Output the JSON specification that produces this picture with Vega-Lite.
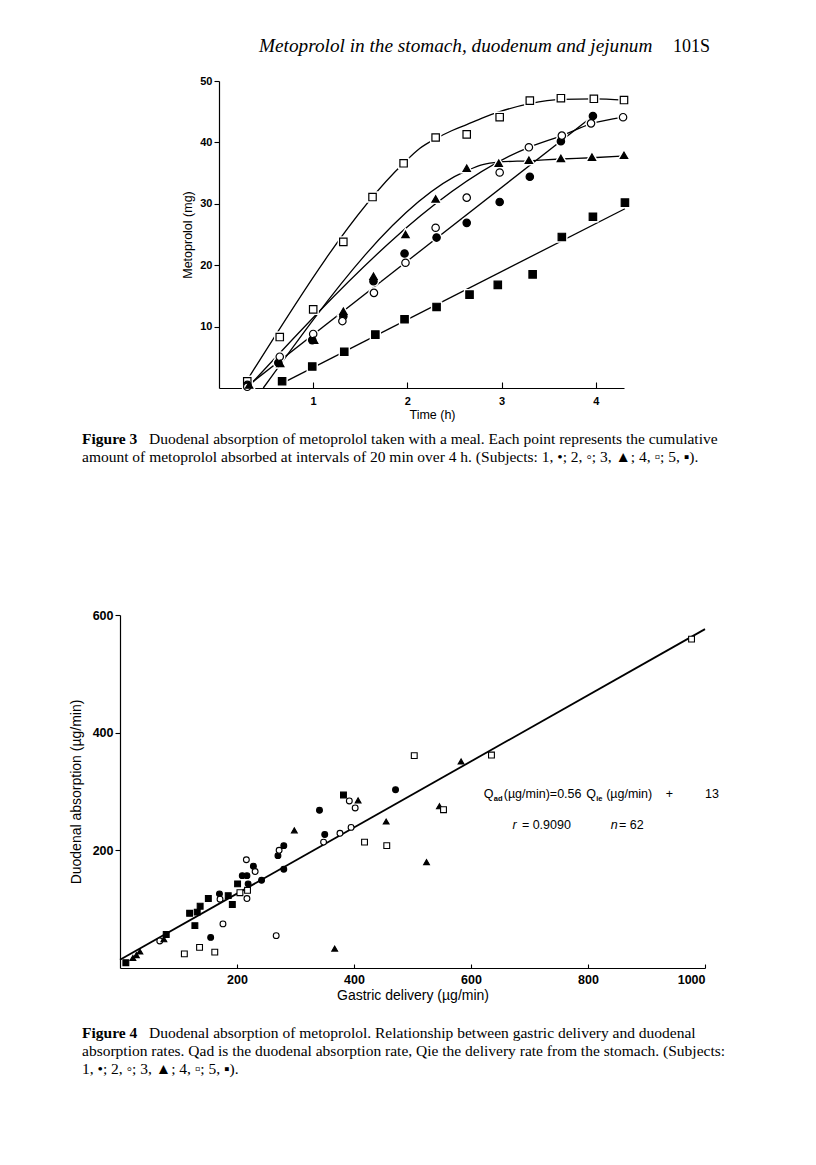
{
  "$schema": "https://vega.github.io/schema/vega-lite/v6.json",
  "padding": {"left": 69, "top": 36, "right": 10, "bottom": 10},
  "background": "white",
  "config": {
    "view": {"stroke": null},
    "font": "Liberation Sans",
    "title": {"font": "Liberation Serif", "fontSize": 15.5, "fontWeight": "normal", "color": "black", "anchor": "start", "frame": "group"},
    "axis": {"grid": false, "domainColor": "black", "tickColor": "black", "labelColor": "black", "titleColor": "black", "domainWidth": 1.2, "tickWidth": 1.1, "titleFontWeight": "normal", "labelFontWeight": "bold"},
    "text": {"color": "black", "align": "left", "baseline": "alphabetic", "fontSize": 12.5}
  },
  "title": {
    "text": "Metoprolol in the stomach, duodenum and jejunum",
    "dx": 139, "offset": -18.25, "fontSize": 19.25, "fontStyle": "italic"
  },
  "datasets": {
    "fig3obs": [
      {"s": "4", "t": 0.30, "v": 1.1}, {"s": "4", "t": 0.645, "v": 8.3}, {"s": "4", "t": 1.0, "v": 12.8}, {"s": "4", "t": 1.32, "v": 23.8}, {"s": "4", "t": 1.63, "v": 31.1}, {"s": "4", "t": 1.96, "v": 36.6}, {"s": "4", "t": 2.30, "v": 40.8}, {"s": "4", "t": 2.63, "v": 41.3}, {"s": "4", "t": 2.98, "v": 44.1}, {"s": "4", "t": 3.30, "v": 46.8}, {"s": "4", "t": 3.63, "v": 47.2}, {"s": "4", "t": 3.98, "v": 47.1}, {"s": "4", "t": 4.30, "v": 46.9},
      {"s": "1", "t": 0.30, "v": 0.5}, {"s": "1", "t": 0.63, "v": 4.1}, {"s": "1", "t": 0.99, "v": 7.8}, {"s": "1", "t": 1.32, "v": 11.7}, {"s": "1", "t": 1.64, "v": 17.4}, {"s": "1", "t": 1.97, "v": 21.9}, {"s": "1", "t": 2.31, "v": 24.5}, {"s": "1", "t": 2.63, "v": 26.9}, {"s": "1", "t": 2.98, "v": 30.3}, {"s": "1", "t": 3.30, "v": 34.4}, {"s": "1", "t": 3.63, "v": 40.2}, {"s": "1", "t": 3.97, "v": 44.3},
      {"s": "2", "t": 0.30, "v": 0.2}, {"s": "2", "t": 0.645, "v": 5.1}, {"s": "2", "t": 1.0, "v": 8.8}, {"s": "2", "t": 1.31, "v": 10.9}, {"s": "2", "t": 1.645, "v": 15.5}, {"s": "2", "t": 1.98, "v": 20.4}, {"s": "2", "t": 2.30, "v": 26.1}, {"s": "2", "t": 2.63, "v": 31.0}, {"s": "2", "t": 2.98, "v": 35.1}, {"s": "2", "t": 3.29, "v": 39.2}, {"s": "2", "t": 3.64, "v": 41.1}, {"s": "2", "t": 3.95, "v": 43.1}, {"s": "2", "t": 4.29, "v": 44.1},
      {"s": "3", "t": 0.32, "v": 0.5}, {"s": "3", "t": 0.65, "v": 4.0}, {"s": "3", "t": 1.01, "v": 7.8}, {"s": "3", "t": 1.32, "v": 12.5}, {"s": "3", "t": 1.64, "v": 18.2}, {"s": "3", "t": 1.98, "v": 25.0}, {"s": "3", "t": 2.30, "v": 30.8}, {"s": "3", "t": 2.63, "v": 35.8}, {"s": "3", "t": 2.97, "v": 36.6}, {"s": "3", "t": 3.29, "v": 37.1}, {"s": "3", "t": 3.63, "v": 37.4}, {"s": "3", "t": 3.96, "v": 37.6}, {"s": "3", "t": 4.30, "v": 37.9},
      {"s": "5", "t": 0.67, "v": 1.1}, {"s": "5", "t": 0.99, "v": 3.5}, {"s": "5", "t": 1.33, "v": 5.9}, {"s": "5", "t": 1.66, "v": 8.7}, {"s": "5", "t": 1.97, "v": 11.2}, {"s": "5", "t": 2.31, "v": 13.2}, {"s": "5", "t": 2.66, "v": 15.2}, {"s": "5", "t": 2.96, "v": 16.8}, {"s": "5", "t": 3.33, "v": 18.5}, {"s": "5", "t": 3.64, "v": 24.6}, {"s": "5", "t": 3.97, "v": 27.9}, {"s": "5", "t": 4.31, "v": 30.2}
    ],
    "fig3fit": [
      {"s": "1", "t": 0.30, "v": 0.3}, {"s": "1", "t": 3.97, "v": 44.3},
      {"s": "2", "t": 0.30, "v": 0.0}, {"s": "2", "t": 3.29, "v": 39.2}, {"s": "2", "t": 3.64, "v": 41.1}, {"s": "2", "t": 3.95, "v": 43.0}, {"s": "2", "t": 4.29, "v": 44.1},
      {"s": "3", "t": 0.47, "v": 0.0}, {"s": "3", "t": 2.63, "v": 35.4}, {"s": "3", "t": 2.80, "v": 36.4}, {"s": "3", "t": 2.97, "v": 36.8}, {"s": "3", "t": 3.29, "v": 37.0}, {"s": "3", "t": 3.63, "v": 37.3}, {"s": "3", "t": 3.96, "v": 37.5}, {"s": "3", "t": 4.30, "v": 37.8},
      {"s": "4", "t": 0.30, "v": 1.3}, {"s": "4", "t": 1.96, "v": 36.6}, {"s": "4", "t": 2.13, "v": 39.0}, {"s": "4", "t": 2.30, "v": 40.6}, {"s": "4", "t": 2.47, "v": 41.9}, {"s": "4", "t": 2.63, "v": 42.9}, {"s": "4", "t": 2.80, "v": 44.0}, {"s": "4", "t": 2.98, "v": 45.0}, {"s": "4", "t": 3.30, "v": 46.3}, {"s": "4", "t": 3.63, "v": 47.0}, {"s": "4", "t": 3.98, "v": 47.1}, {"s": "4", "t": 4.30, "v": 46.9},
      {"s": "5", "t": 0.70, "v": 1.0}, {"s": "5", "t": 4.31, "v": 29.2}
    ],
    "fig4obs": [
      {"s": "1", "gd": 155, "da": 52}, {"s": "1", "gd": 170, "da": 126}, {"s": "1", "gd": 209, "da": 157}, {"s": "1", "gd": 217, "da": 157}, {"s": "1", "gd": 228, "da": 173}, {"s": "1", "gd": 219, "da": 143}, {"s": "1", "gd": 242, "da": 149}, {"s": "1", "gd": 270, "da": 191}, {"s": "1", "gd": 280, "da": 208}, {"s": "1", "gd": 280, "da": 168}, {"s": "1", "gd": 341, "da": 268}, {"s": "1", "gd": 350, "da": 227}, {"s": "1", "gd": 471, "da": 303},
      {"s": "2", "gd": 68, "da": 46}, {"s": "2", "gd": 171, "da": 117}, {"s": "2", "gd": 176, "da": 75}, {"s": "2", "gd": 216, "da": 184}, {"s": "2", "gd": 217, "da": 118}, {"s": "2", "gd": 231, "da": 164}, {"s": "2", "gd": 267, "da": 55}, {"s": "2", "gd": 272, "da": 200}, {"s": "2", "gd": 348, "da": 214}, {"s": "2", "gd": 376, "da": 229}, {"s": "2", "gd": 395, "da": 239}, {"s": "2", "gd": 392, "da": 284}, {"s": "2", "gd": 402, "da": 272},
      {"s": "3", "gd": 22, "da": 17}, {"s": "3", "gd": 28, "da": 22}, {"s": "3", "gd": 34, "da": 28}, {"s": "3", "gd": 75, "da": 49}, {"s": "3", "gd": 298, "da": 234}, {"s": "3", "gd": 367, "da": 33}, {"s": "3", "gd": 407, "da": 285}, {"s": "3", "gd": 455, "da": 249}, {"s": "3", "gd": 524, "da": 180}, {"s": "3", "gd": 546, "da": 275}, {"s": "3", "gd": 583, "da": 351},
      {"s": "4", "gd": 110, "da": 24}, {"s": "4", "gd": 136, "da": 35}, {"s": "4", "gd": 162, "da": 27}, {"s": "4", "gd": 205, "da": 128}, {"s": "4", "gd": 218, "da": 132}, {"s": "4", "gd": 418, "da": 214}, {"s": "4", "gd": 456, "da": 208}, {"s": "4", "gd": 503, "da": 361}, {"s": "4", "gd": 553, "da": 269}, {"s": "4", "gd": 635, "da": 362}, {"s": "4", "gd": 977, "da": 559},
      {"s": "5", "gd": 10, "da": 9}, {"s": "5", "gd": 79, "da": 57}, {"s": "5", "gd": 119, "da": 93}, {"s": "5", "gd": 132, "da": 95}, {"s": "5", "gd": 137, "da": 105}, {"s": "5", "gd": 128, "da": 72}, {"s": "5", "gd": 151, "da": 118}, {"s": "5", "gd": 185, "da": 123}, {"s": "5", "gd": 192, "da": 108}, {"s": "5", "gd": 201, "da": 143}, {"s": "5", "gd": 382, "da": 294}
    ],
    "fig4fit": [
      {"gd": 0, "da": 14}, {"gd": 1000, "da": 576}
    ]
  },
  "spacing": 144,
  "vconcat": [
    {
      "title": {"text": "101S", "dx": 553, "offset": 19.5, "fontSize": 18},
      "vconcat": [
        {
          "title": {"text": "amount of metoprolol absorbed at intervals of 20 min over 4 h. (Subjects: 1, •; 2, ◦; 3, ▲; 4, ▫; 5, ▪).", "orient": "bottom", "dx": -38, "offset": 2.5},
          "vconcat": [
            {
              "title": {"text": "Figure 3", "orient": "bottom", "dx": -38, "offset": -15.5, "fontWeight": "bold"},
              "vconcat": [
                {
                  "width": 504,
                  "height": 307,
                  "title": {"text": "Duodenal absorption of metoprolol taken with a meal. Each point represents the cumulative", "orient": "bottom", "dx": 29, "offset": 11},
                  "encoding": {
                    "x": {"field": "t", "type": "quantitative", "scale": {"domain": [0, 4.3], "range": [99, 504], "nice": false, "zero": false},
                          "axis": {"values": [1, 2, 3, 4], "title": "Time (h)", "titleX": 312, "tickSize": -6, "labelPadding": 13, "labelFontSize": 11, "titleFontSize": 12.5, "titlePadding": 2}},
                    "y": {"field": "v", "type": "quantitative", "scale": {"domain": [0, 50], "nice": false},
                          "axis": {"offset": -99, "values": [10, 20, 30, 40, 50], "title": "Metoprolol (mg)", "tickSize": 5, "labelPadding": 2, "labelFontSize": 11, "titleFontSize": 12.5, "titlePadding": 5}}
                  },
                  "layer": [
                    {"data": {"name": "fig3fit"}, "mark": {"type": "line", "interpolate": "monotone", "color": "black", "strokeWidth": 1.3},
                     "encoding": {"detail": {"field": "s", "type": "nominal"}}},
                    {"data": {"name": "fig3obs"}, "mark": {"type": "point", "filled": true, "fill": "white", "stroke": "white", "strokeWidth": 4, "size": 55, "opacity": 1},
                     "encoding": {"shape": {"field": "s", "type": "nominal", "scale": {"domain": ["1", "2", "3", "4", "5"], "range": ["circle", "circle", "triangle-up", "square", "square"]}, "legend": null}}},
                    {"data": {"name": "fig3obs"}, "mark": {"type": "point", "filled": true, "stroke": "black", "strokeWidth": 1.2, "size": 55, "opacity": 1},
                     "encoding": {
                       "shape": {"field": "s", "type": "nominal", "scale": {"domain": ["1", "2", "3", "4", "5"], "range": ["circle", "circle", "triangle-up", "square", "square"]}, "legend": null},
                       "fill": {"field": "s", "type": "nominal", "scale": {"domain": ["1", "2", "3", "4", "5"], "range": ["black", "white", "black", "white", "black"]}, "legend": null}
                     }}
                  ]
                }
              ]
            }
          ]
        }
      ]
    },
    {
      "title": {"text": ["absorption rates. Qad is the duodenal absorption rate, Qie the delivery rate from the stomach. (Subjects:", "1, •; 2, ◦; 3, ▲; 4, ▫; 5, ▪)."], "orient": "bottom", "dx": -38, "offset": 2.5, "lineHeight": 18},
      "vconcat": [
        {
          "title": {"text": "Figure 4", "orient": "bottom", "dx": -38, "offset": -15.5, "fontWeight": "bold"},
          "vconcat": [
            {
              "width": 585,
              "height": 353,
              "title": {"text": "Duodenal absorption of metoprolol. Relationship between gastric delivery and duodenal", "orient": "bottom", "dx": 29, "offset": 23},
              "layer": [
                {"data": {"name": "fig4fit"}, "mark": {"type": "line", "color": "black", "strokeWidth": 1.8},
                 "encoding": {
                   "x": {"field": "gd", "type": "quantitative", "scale": {"domain": [0, 1000], "nice": false},
                         "axis": {"values": [200, 400, 600, 800, 1000], "format": "d", "title": "Gastric delivery (µg/min)", "tickSize": -4, "labelPadding": 9, "labelFontSize": 12.5, "titleFontSize": 14, "titlePadding": 3}},
                   "y": {"field": "da", "type": "quantitative", "scale": {"domain": [0, 600], "nice": false},
                         "axis": {"values": [200, 400, 600], "format": "d", "title": "Duodenal absorption (µg/min)", "tickSize": 5, "labelPadding": 2, "labelFontSize": 12.5, "titleFontSize": 14, "titlePadding": 9}}
                 }},
                {"data": {"name": "fig4obs"}, "mark": {"type": "point", "filled": true, "stroke": "black", "strokeWidth": 1.1, "size": 34, "opacity": 1},
                 "encoding": {
                   "x": {"field": "gd", "type": "quantitative"},
                   "y": {"field": "da", "type": "quantitative"},
                   "shape": {"field": "s", "type": "nominal", "scale": {"domain": ["1", "2", "3", "4", "5"], "range": ["circle", "circle", "triangle-up", "square", "square"]}, "legend": null},
                   "fill": {"field": "s", "type": "nominal", "scale": {"domain": ["1", "2", "3", "4", "5"], "range": ["black", "white", "black", "white", "black"]}, "legend": null}
                 }},
                {"data": {"values": [{}]}, "mark": {"type": "text", "text": "Q"},
                 "encoding": {"x": {"datum": 622, "type": "quantitative"}, "y": {"datum": 289, "type": "quantitative"}}},
                {"data": {"values": [{}]}, "mark": {"type": "text", "text": "ad", "fontSize": 7.5, "fontWeight": "bold", "dy": 3},
                 "encoding": {"x": {"datum": 639, "type": "quantitative"}, "y": {"datum": 289, "type": "quantitative"}}},
                {"data": {"values": [{}]}, "mark": {"type": "text", "text": "(µg/min)=0.56"},
                 "encoding": {"x": {"datum": 656, "type": "quantitative"}, "y": {"datum": 289, "type": "quantitative"}}},
                {"data": {"values": [{}]}, "mark": {"type": "text", "text": "Q"},
                 "encoding": {"x": {"datum": 797, "type": "quantitative"}, "y": {"datum": 289, "type": "quantitative"}}},
                {"data": {"values": [{}]}, "mark": {"type": "text", "text": "ie", "fontSize": 7.5, "fontWeight": "bold", "dy": 3},
                 "encoding": {"x": {"datum": 814, "type": "quantitative"}, "y": {"datum": 289, "type": "quantitative"}}},
                {"data": {"values": [{}]}, "mark": {"type": "text", "text": "(µg/min)"},
                 "encoding": {"x": {"datum": 831, "type": "quantitative"}, "y": {"datum": 289, "type": "quantitative"}}},
                {"data": {"values": [{}]}, "mark": {"type": "text", "text": "+"},
                 "encoding": {"x": {"datum": 933, "type": "quantitative"}, "y": {"datum": 289, "type": "quantitative"}}},
                {"data": {"values": [{}]}, "mark": {"type": "text", "text": "13"},
                 "encoding": {"x": {"datum": 1000, "type": "quantitative"}, "y": {"datum": 289, "type": "quantitative"}}},
                {"data": {"values": [{}]}, "mark": {"type": "text", "text": "r", "fontStyle": "italic"},
                 "encoding": {"x": {"datum": 671, "type": "quantitative"}, "y": {"datum": 236, "type": "quantitative"}}},
                {"data": {"values": [{}]}, "mark": {"type": "text", "text": "= 0.9090"},
                 "encoding": {"x": {"datum": 687, "type": "quantitative"}, "y": {"datum": 236, "type": "quantitative"}}},
                {"data": {"values": [{}]}, "mark": {"type": "text", "text": "n", "fontStyle": "italic"},
                 "encoding": {"x": {"datum": 839, "type": "quantitative"}, "y": {"datum": 236, "type": "quantitative"}}},
                {"data": {"values": [{}]}, "mark": {"type": "text", "text": "= 62"},
                 "encoding": {"x": {"datum": 853, "type": "quantitative"}, "y": {"datum": 236, "type": "quantitative"}}}
              ]
            }
          ]
        }
      ]
    }
  ]
}
